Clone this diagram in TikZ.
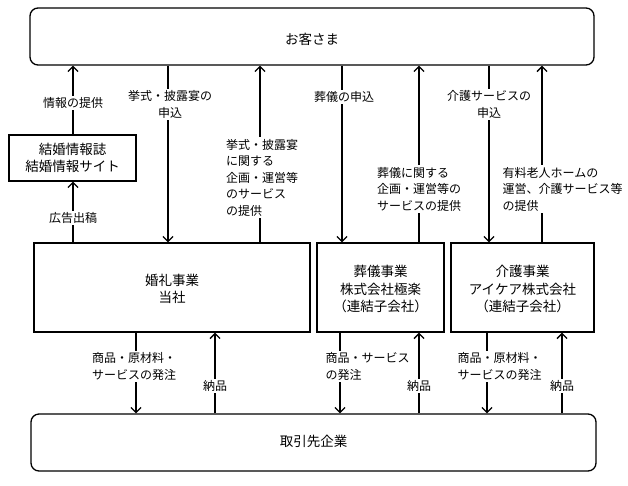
\documentclass[tikz,border=0pt]{standalone}
\usepackage{fontspec}
\setmainfont{Noto Sans CJK JP}
\usetikzlibrary{arrows.meta}
\tikzset{
  box/.style={draw, line width=1.3pt, minimum width=#1, inner sep=0pt},
  rbox/.style={draw, line width=1.3pt, rounded corners=8pt, inner sep=0pt},
  arr/.style={line width=1.3pt, -{Straight Barb[length=5pt,width=10pt]}},
  lbl/.style={fill=white, inner sep=1.5pt, font=\fontsize{12}{16.5}\selectfont, align=center},
  lbll/.style={lbl, align=left},
  btxt/.style={font=\fontsize{13.5}{17.5}\selectfont, align=center},
}
\begin{document}
\begin{tikzpicture}[x=1pt,y=-1pt]
\useasboundingbox (0,0) rectangle (628,485);
% boxes
\node[rbox, minimum width=564pt, minimum height=57pt] (top) at (312,36.5) {};
\node[btxt] at (312,39) {お客さま};
\node[rbox, minimum width=565pt, minimum height=57pt] (bot) at (313.5,442.5) {};
\node[btxt] at (313.5,441) {取引先企業};
\node[box=127pt, minimum height=46pt, btxt] (mag) at (72.5,158) {結婚情報誌\\結婚情報サイト};
\node[box=276pt, minimum height=89pt] (wed) at (172,287.5) {};
\node[btxt] at (172,289) {婚礼事業\\当社};
\node[box=127pt, minimum height=89pt] (fun) at (380.5,287.5) {};
\node[btxt] at (380.5,289) {葬儀事業\\株式会社極楽\\（連結子会社）};
\node[box=143pt, minimum height=89pt] (care) at (522.5,287.5) {};
\node[btxt] at (522.5,289) {介護事業\\アイケア株式会社\\（連結子会社）};
% x positions of connectors
\coordinate (xa) at (73,0);
\coordinate (xb) at (168,0);
\coordinate (xc) at (260,0);
\coordinate (xd) at (342,0);
\coordinate (xe) at (419,0);
\coordinate (xf) at (489,0);
\coordinate (xg) at (542,0);
\coordinate (xh) at (136,0);
\coordinate (xi) at (215,0);
\coordinate (xj) at (340,0);
\coordinate (xk) at (419,0);
\coordinate (xl) at (487,0);
\coordinate (xm) at (562,0);
% upper connectors
\draw[arr] (mag.north -| xa) -- (top.south -| xa);
\draw[arr] (wed.north -| xa) -- (mag.south -| xa);
\draw[arr] (top.south -| xb) -- (wed.north -| xb);
\draw[arr] (wed.north -| xc) -- (top.south -| xc);
\draw[arr] (top.south -| xd) -- (fun.north -| xd);
\draw[arr] (fun.north -| xe) -- (top.south -| xe);
\draw[arr] (top.south -| xf) -- (care.north -| xf);
\draw[arr] (care.north -| xg) -- (top.south -| xg);
% lower connectors
\draw[arr] (wed.south -| xh) -- (bot.north -| xh);
\draw[arr] (bot.north -| xi) -- (wed.south -| xi);
\draw[arr] (fun.south -| xj) -- (bot.north -| xj);
\draw[arr] (bot.north -| xk) -- (fun.south -| xk);
\draw[arr] (care.south -| xl) -- (bot.north -| xl);
\draw[arr] (bot.north -| xm) -- (care.south -| xm);
% labels
\node[lbl] (l1) at (73,103) {情報の提供};
\node[lbl] (l2) at (73,218) {広告出稿};
\node[lbl] (l3) at (170,104.5) {挙式・披露宴の\\申込};
\node[lbll] (l4) at (262,177.5) {挙式・披露宴\\に関する\\企画・運営等\\のサービス\\の提供};
\node[lbl] (l5) at (344,97) {葬儀の申込};
\node[lbll] (l6) at (419,189) {葬儀に関する\\企画・運営等の\\サービスの提供};
\node[lbl] (l7) at (489,104.5) {介護サービスの\\申込};
\node[lbll, anchor=west] (l8) at (501,189) {有料老人ホームの\\運営、介護サービス等\\の提供};
\node[lbll] (l9) at (134,366.5) {商品・原材料・\\サービスの発注};
\node[lbl] (l10) at (215,386) {納品};
\node[lbll, anchor=west] (l11) at (324,366.5) {商品・サービス\\の発注};
\node[lbl] (l12) at (419,386) {納品};
\node[lbll, anchor=west] (l13) at (456,366.5) {商品・原材料・\\サービスの発注};
\node[lbl] (l14) at (562,386) {納品};
\end{tikzpicture}
\end{document}
